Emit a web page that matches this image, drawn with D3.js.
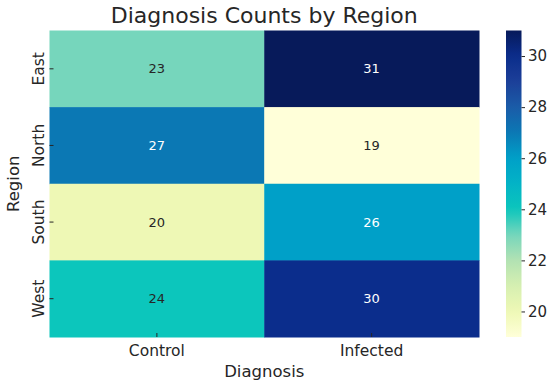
<!DOCTYPE html>
<html>
<head>
<meta charset="utf-8">
<script src="https://cdn.jsdelivr.net/npm/d3@7"></script>
<style>
  body { margin: 0; background: #fff; }
  text { font-family: "DejaVu Sans", sans-serif; fill: #262626; }
</style>
</head>
<body>
<div id="chart"></div>
<script>
// data
const regions = ["East", "North", "South", "West"]
const diagnoses = ["Control", "Infected"]
const controlCounts = [23, 27, 20, 24]
const infectedCounts = [31, 19, 26, 30]
const cbarTicks = [20, 22, 24, 26, 28, 30]

const width = 550, height = 387
let margin = { top: 30.5, left: 49.5 }
let plotW = 429.5, plotH = 306.5

let cells = []
regions.forEach((r, i) => {
    cells.push({ region: r, diag: diagnoses[0], value: controlCounts[i] })
    cells.push({ region: r, diag: diagnoses[1], value: infectedCounts[i] })
})

let svg = d3.select("#chart").append("svg")
    .attr("width", width)
    .attr("height", height)

// YlGnBu as it looks in the picture (more saturated than the plain brewer ramp)
const ylgnbu = ["#ffffd9", "#eef8b5", "#d6efb1", "#b2e2b3", "#76d6bc", "#0cc6bc", "#03b3c6",
    "#00a0c8", "#0b78b4", "#1a5ca8", "#1c3f98", "#0b2d8c", "#071a5a"]
let vmin = d3.min(cells, d => d.value), vmax = d3.max(cells, d => d.value)
let color = d3.scaleSequential(d3.piecewise(d3.interpolateRgb, ylgnbu)).domain([vmin, vmax])

let x = d3.scaleBand().domain(diagnoses).range([margin.left, margin.left + plotW])
let y = d3.scaleBand().domain(regions).range([margin.top, margin.top + plotH])

// relative luminance, seaborn switches to white text below .408
function lum(c) {
    let rgb = d3.rgb(c)
    let f = v => { v = v / 255; return v <= 0.03928 ? v / 12.92 : Math.pow((v + 0.055) / 1.055, 2.4) }
    return 0.2126 * f(rgb.r) + 0.7152 * f(rgb.g) + 0.0722 * f(rgb.b)
}

//格子
svg.selectAll(".cell")
    .data(cells)
    .enter()
    .append("rect")
    .attr("class", "cell")
    .attr("x", d => x(d.diag))
    .attr("y", d => y(d.region))
    .attr("width", x.bandwidth() + 0.5)
    .attr("height", y.bandwidth() + 0.5)
    .attr("fill", d => color(d.value))

svg.selectAll(".annot")
    .data(cells)
    .enter()
    .append("text")
    .attr("class", "annot")
    .attr("x", d => x(d.diag) + x.bandwidth() / 2)
    .attr("y", d => y(d.region) + y.bandwidth() / 2)
    .attr("dy", "0.36em")
    .attr("text-anchor", "middle")
    .style("font-size", "13px")
    .style("fill", d => lum(color(d.value)) < 0.408 ? "#ffffff" : "#262626")
    .text(d => d.value)

// inward ticks, like the seaborn output
let xTicks = svg.append("g")
diagnoses.forEach(dg => {
    let cx = x(dg) + x.bandwidth() / 2
    xTicks.append("line")
        .attr("x1", cx).attr("x2", cx)
        .attr("y1", margin.top + plotH - 4).attr("y2", margin.top + plotH)
        .attr("stroke", "#262626").attr("stroke-width", 1)
    xTicks.append("text")
        .attr("x", cx)
        .attr("y", margin.top + plotH + 19)
        .attr("text-anchor", "middle")
        .style("font-size", "15.5px")
        .text(dg)
})

let yTicks = svg.append("g")
regions.forEach(r => {
    let cy = y(r) + y.bandwidth() / 2
    yTicks.append("line")
        .attr("x1", margin.left).attr("x2", margin.left + 4)
        .attr("y1", cy).attr("y2", cy)
        .attr("stroke", "#262626").attr("stroke-width", 1)
    yTicks.append("text")
        .attr("transform", "translate(" + (margin.left - 6) + "," + cy + ") rotate(-90)")
        .attr("text-anchor", "middle")
        .style("font-size", "15.5px")
        .text(r)
})

// axis labels + title
svg.append("text")
    .attr("x", margin.left + plotW / 2)
    .attr("y", 377)
    .attr("text-anchor", "middle")
    .style("font-size", "16.5px")
    .text("Diagnosis")

svg.append("text")
    .attr("transform", "translate(19," + (margin.top + plotH / 2) + ") rotate(-90)")
    .attr("text-anchor", "middle")
    .style("font-size", "16.5px")
    .text("Region")

svg.append("text")
    .attr("x", margin.left + plotW / 2)
    .attr("y", 23)
    .attr("text-anchor", "middle")
    .style("font-size", "22px")
    .text("Diagnosis Counts by Region")

// colorbar
let cbX = 506, cbW = 15.5
let cbScale = d3.scaleLinear().domain([vmin, vmax]).range([margin.top + plotH, margin.top])
let defs = svg.append("defs")
let grad = defs.append("linearGradient")
    .attr("id", "cbgrad")
    .attr("x1", "0").attr("y1", "1").attr("x2", "0").attr("y2", "0")
d3.range(0, 1.0001, 0.025).forEach(t => {
    grad.append("stop")
        .attr("offset", t)
        .attr("stop-color", color(vmin + t * (vmax - vmin)))
})
svg.append("rect")
    .attr("x", cbX).attr("y", margin.top)
    .attr("width", cbW).attr("height", plotH)
    .attr("fill", "url(#cbgrad)")

let cbAxis = svg.append("g")
    .attr("transform", "translate(" + (cbX + cbW) + ",0)")
    .call(d3.axisRight(cbScale).tickValues(cbarTicks).tickSize(3.5).tickPadding(3))
cbAxis.select(".domain").remove()
cbAxis.selectAll("line").attr("stroke", "#262626")
cbAxis.selectAll("text")
    .style("font-size", "15px")
    .style("font-family", "DejaVu Sans")
    .attr("fill", "#262626")
</script>
</body>
</html>
